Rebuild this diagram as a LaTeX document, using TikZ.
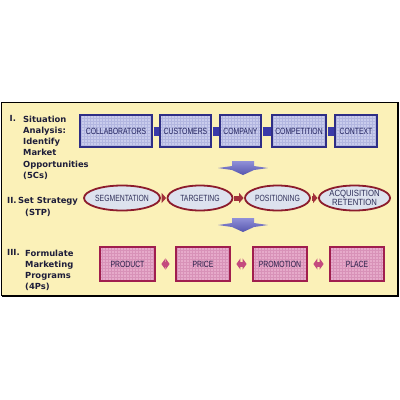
\documentclass[tikz,border=0pt]{standalone}
\usepackage{fontspec}
\setmainfont{DejaVu Sans}
\newfontfamily\boxfont[FakeStretch=0.76]{Liberation Sans}
\newfontfamily\acqfont[FakeStretch=0.86]{Liberation Sans}
\usetikzlibrary{shapes.geometric,arrows.meta,patterns}
\definecolor{bgyellow}{HTML}{FBF1B8}
\definecolor{bnavy}{HTML}{2E2E86}
\definecolor{bfill}{HTML}{C9CCEC}
\definecolor{bgrid}{HTML}{B2B6E0}
\definecolor{btext}{HTML}{22225E}
\definecolor{bconn}{HTML}{3A3AA8}
\definecolor{efill}{HTML}{DDE2EE}
\definecolor{ered}{HTML}{8C1C2C}
\definecolor{etext}{HTML}{2E2E58}
\definecolor{rarrow}{HTML}{A2303A}
\definecolor{pfill}{HTML}{E6AACA}
\definecolor{pgridc}{HTML}{D892B8}
\definecolor{pborder}{HTML}{A01E4E}
\definecolor{ptext}{HTML}{261E48}
\definecolor{parrow}{HTML}{C44A7E}
\definecolor{dtop}{HTML}{9090D8}
\definecolor{dbot}{HTML}{5656AE}
\definecolor{lbltext}{HTML}{1E1E3A}
\begin{document}
\begin{tikzpicture}[x=1pt,y=-1pt,
  bluebox/.style={draw=bnavy, line width=1.8pt, preaction={fill=bfill}, pattern=grid, pattern color=bgrid,
    minimum height=32pt, inner sep=0pt, font=\boxfont\fontsize{9}{10}\selectfont, text=btext},
  oval/.style={ellipse, draw=ered, line width=1.8pt, fill=efill, minimum width=65pt, minimum height=25pt,
    inner sep=0pt, font=\boxfont\fontsize{9}{10}\selectfont, text=etext},
  pinkbox/.style={draw=pborder, line width=1.8pt, preaction={fill=pfill}, pattern=grid, pattern color=pgridc,
    minimum height=34pt, minimum width=54pt, inner sep=0pt, font=\boxfont\fontsize{9}{10}\selectfont, text=ptext},
  lbl/.style={anchor=north west, inner sep=0pt, align=left, text=lbltext,
    font=\fontsize{8.4}{11.3}\selectfont\bfseries},
  bconnector/.style={draw=bconn, line width=9pt, shorten <=0.6pt, shorten >=0.6pt},
  redarrow/.style={draw=rarrow, line width=5pt, shorten <=1pt, shorten >=0.5pt,
    -{Triangle[length=4.5pt,width=10pt]}},
  dblarrow/.style={draw=parrow, line width=5pt, shorten <=5.5pt, shorten >=5.5pt,
    {Triangle[length=4pt,width=11pt]}-{Triangle[length=4pt,width=11pt]}},
  pics/downarrow/.style={code={
    \shade[top color=dtop, bottom color=dbot]
      (-11,0) -- (11,0) -- (11,5) -- (25,7) -- (11,9) -- (0,14) -- (-11,9) -- (-25,7) -- (-11,5) -- cycle;}}
]
\useasboundingbox (0,0) rectangle (400,400);
\fill[white] (0,0) rectangle (400,400);
% frame
\draw[black, line width=1.2pt, fill=bgyellow] (1.6,102.6) rectangle (398,295.6);
\draw[black, line width=1pt] (398.3,103) -- (398.3,296) -- (2,296);

% left labels
\node[lbl] (n1) at (9.5,115.5) {I.};
\node[lbl] (t1) at (23,115.5) {Situation\\Analysis:\\Identify\\Market\\Opportunities\\(5Cs)};
\node[lbl] (n2) at (7,197.5) {II.};
\node[lbl] (t2) at (18,197.5) {Set Strategy\\\hspace*{7pt}(STP)};
\node[lbl] (n3) at (7,249.5) {III.};
\node[lbl] (t3) at (25,249.5) {Formulate\\Marketing\\Programs\\(4Ps)};

% row 1: 5Cs
\node[bluebox, minimum width=72pt] (collab) at (116,131) {COLLABORATORS};
\node[bluebox, minimum width=51pt] (cust) at (185.5,131) {CUSTOMERS};
\node[bluebox, minimum width=41pt] (comp) at (240.5,131) {COMPANY};
\node[bluebox, minimum width=54pt] (compet) at (299,131) {COMPETITION};
\node[bluebox, minimum width=42pt] (ctx) at (356,131) {CONTEXT};
\draw[bconnector] (collab.east) -- (cust.west);
\draw[bconnector] (cust.east) -- (comp.west);
\draw[bconnector] (comp.east) -- (compet.west);
\draw[bconnector] (compet.east) -- (ctx.west);

\pic at (243,161) {downarrow};

% row 2: STP
\node[oval] (seg) at (122,198) {SEGMENTATION};
\node[oval] (targ) at (200,198) {TARGETING};
\node[oval] (pos) at (277.5,198) {POSITIONING};
\node[oval, minimum width=63pt, font=\acqfont\fontsize{9}{9}\selectfont, align=center] (acq) at (354.5,198) {ACQUISITION\\RETENTION};
\draw[redarrow] (seg.east) -- (targ.west);
\draw[redarrow] (targ.east) -- (pos.west);
\draw[redarrow] (pos.east) -- (acq.west);

\pic at (243,218) {downarrow};

% row 3: 4Ps
\node[pinkbox, minimum width=55pt] (prod) at (127.5,264) {PRODUCT};
\node[pinkbox] (price) at (203,264) {PRICE};
\node[pinkbox] (promo) at (280,264) {PROMOTION};
\node[pinkbox] (place) at (357,264) {PLACE};
\draw[dblarrow] (prod.east) -- (price.west);
\draw[dblarrow] (price.east) -- (promo.west);
\draw[dblarrow] (promo.east) -- (place.west);
\end{tikzpicture}
\end{document}
